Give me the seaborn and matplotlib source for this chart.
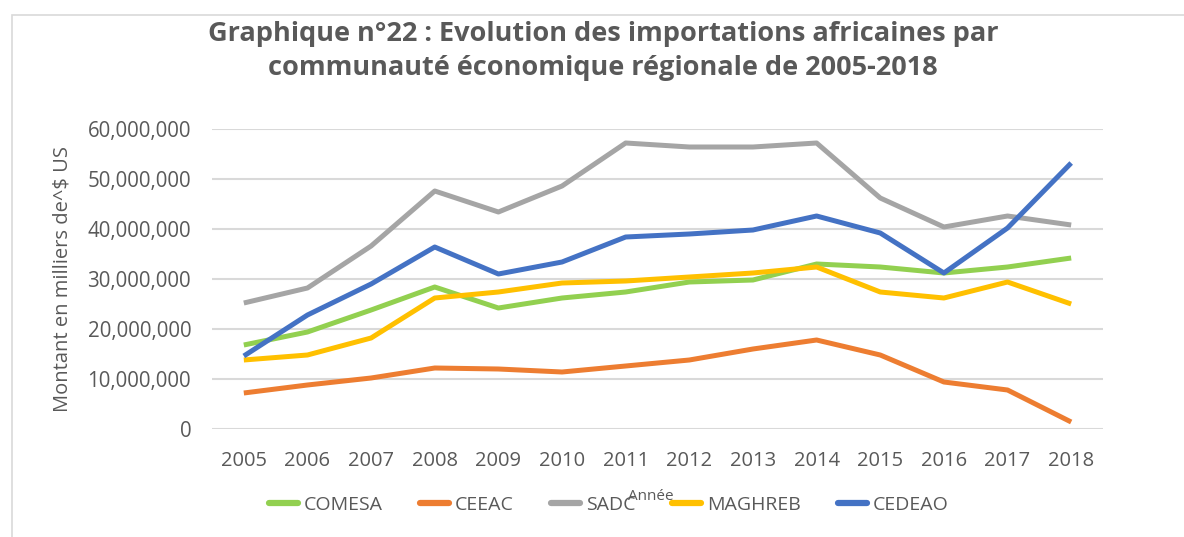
import matplotlib
matplotlib.use("Agg")
import matplotlib.pyplot as plt
import seaborn as sns
import pandas as pd
from matplotlib.patches import Rectangle
from matplotlib.ticker import FuncFormatter

years = list(range(2005, 2019))
comesa = [16.8, 19.4, 23.8, 28.4, 24.2, 26.2, 27.4, 29.4, 29.8, 33.0, 32.4, 31.2, 32.4, 34.2]
ceeac = [7.2, 8.8, 10.2, 12.2, 12.0, 11.4, 12.6, 13.8, 16.0, 17.8, 14.8, 9.4, 7.8, 1.4]
sadc = [25.2, 28.2, 36.6, 47.6, 43.4, 48.6, 57.2, 56.4, 56.4, 57.2, 46.2, 40.4, 42.6, 40.8]
maghreb = [13.8, 14.8, 18.2, 26.2, 27.4, 29.2, 29.6, 30.4, 31.2, 32.4, 27.4, 26.2, 29.4, 25.0]
cedeao = [14.6, 22.8, 29.0, 36.4, 31.0, 33.4, 38.4, 39.0, 39.8, 42.6, 39.2, 31.2, 40.2, 53.2]

series_names = ["COMESA", "CEEAC", "SADC", "MAGHREB", "CEDEAO"]
colors = ["#92D050", "#ED7D31", "#A5A5A5", "#FFC000", "#4472C4"]
title = "Graphique n°22 : Evolution des importations africaines par\ncommunauté économique régionale de 2005-2018"
ylabel = "Montant en milliers de^$ US"
xlabel = "Année"

rows = []
for name, vals in zip(series_names, [comesa, ceeac, sadc, maghreb, cedeao]):
    for y, v in zip(years, vals):
        rows.append({"Année": y, "Montant": v * 1e6, "CER": name})
df = pd.DataFrame(rows)

sns.set_theme(style="white")
plt.rcParams["font.family"] = ["Open Sans", "DejaVu Sans"]

W, H = 1184, 537
fig = plt.figure(figsize=(W / 100, H / 100), dpi=100)
fig.patch.set_facecolor("white")
fig.patches.append(Rectangle((12 / W, -0.1), 1.2, (1 - 15 / H) + 0.1, transform=fig.transFigure,
                             fill=False, edgecolor="#D9D9D9", linewidth=1.2))

ax = fig.add_axes([212 / W, 1 - 429 / H, 891 / W, 300 / H])
sns.lineplot(data=df, x="Année", y="Montant", hue="CER", hue_order=series_names,
             palette=colors, linewidth=3.6, ax=ax, legend=False, errorbar=None)
for ln in ax.lines:
    ln.set_solid_joinstyle("round")
    ln.set_solid_capstyle("butt")
    ln.set_clip_on(False)

ax.set_xlim(2004.5, 2018.5)
ax.set_ylim(0, 60e6)
ax.set_yticks([0, 10e6, 20e6, 30e6, 40e6, 50e6, 60e6])
ax.set_xticks(years)
ax.yaxis.set_major_formatter(FuncFormatter(lambda v, p: f"{v:,.0f}"))
ax.grid(axis="y", color="#D9D9D9", linewidth=1.5)
ax.set_axisbelow(True)
for s in ax.spines.values():
    s.set_visible(False)
ax.tick_params(axis="y", length=0, pad=15, labelsize=14.8, labelcolor="#595959")
ax.tick_params(axis="x", length=0, pad=16, labelsize=14.5, labelcolor="#595959")
ax.set_xlabel("")
ax.set_ylabel(ylabel, fontsize=14.5, color="#595959", labelpad=11)

fig.text(603 / W, 1 - 51 / H, title, ha="center", va="center", fontsize=19.5,
         fontweight="bold", color="#595959", linespacing=1.36)
fig.text(651 / W, 1 - 497 / H, xlabel, ha="center", va="center", fontsize=11, color="#595959")

handles = [plt.Line2D([], [], color=c, linewidth=4.5) for c in colors]
leg = fig.legend(handles, series_names, loc="center", bbox_to_anchor=(609 / W, 1 - 505 / H),
                 ncol=5, frameon=False, fontsize=14, handlelength=1.5, handletextpad=0.3,
                 columnspacing=1.9, labelcolor="#595959")

fig.savefig("out.png", dpi=100, facecolor="white")
